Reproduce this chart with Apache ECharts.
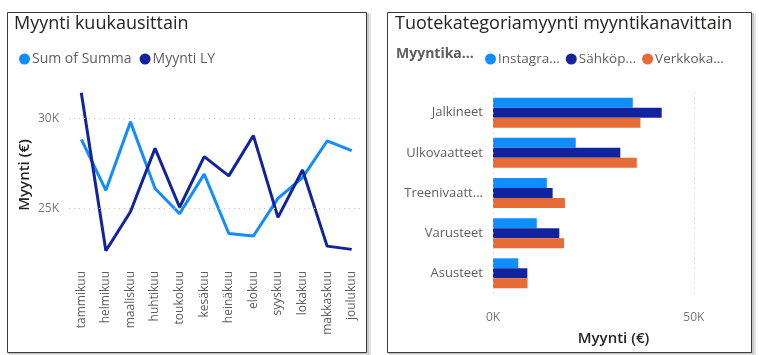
<!DOCTYPE html>
<html><head><meta charset="utf-8">
<script src="https://cdn.jsdelivr.net/npm/echarts@6/dist/echarts.min.js"></script>
<style>html,body{margin:0;padding:0;background:#fff}#c{width:759px;height:355px}</style>
</head><body><div id="c"></div>
<script>
// ---- data ----
const months = ['tammikuu','helmikuu','maaliskuu','huhtikuu','toukokuu','kesäkuu','heinäkuu','elokuu','syyskuu','lokakuu','makkaskuu','joulukuu'];
const sumOfSumma = [28830, 26000, 29800, 26100, 24700, 26900, 23600, 23460, 25550, 26700, 28740, 28200];
const myyntiLY = [31420, 22640, 24810, 28330, 25060, 27870, 26800, 29040, 24500, 27130, 22900, 22720];
const leftTicks = [25000, 30000];

const categories = ['Jalkineet','Ulkovaatteet','Treenivaatteet','Varusteet','Asusteet'];
const channels = ['Instagram','Sähköposti','Verkkokauppa'];
const channelLegend = ['Instagra...','Sähköp...','Verkkoka...'];
const instagram = [34800, 20600, 13400, 10900, 6300];
const sahkoposti = [42000, 31700, 14850, 16500, 8550];
const verkkokauppa = [36700, 35800, 17900, 17700, 8600];
const rightTicks = [0, 50000];

const FONT = '"Segoe UI", "Open Sans", "Noto Sans", sans-serif';
const C1 = '#118DFF', C2 = '#12239E', C3 = '#E66C37';
const fmtK = v => Math.round(v/1000) + 'K';
const gridLine = {type: [1, 4], color: '#C8C6C4', width: 1};

const chart = echarts.init(document.getElementById('c'), null, {renderer: 'canvas'});
chart.setOption({
  animation: false,
  textStyle: {fontFamily: FONT},
  graphic: [
    // panel shadows
    {type: 'rect', shape: {x: 9, y: 14, width: 362, height: 342}, style: {fill: '#e2e2e2'}, z: -11},
    {type: 'rect', shape: {x: 8, y: 13, width: 361, height: 341}, style: {fill: '#c8c8c8'}, z: -10},
    {type: 'rect', shape: {x: 389, y: 14, width: 367, height: 342}, style: {fill: '#e2e2e2'}, z: -11},
    {type: 'rect', shape: {x: 388, y: 13, width: 366, height: 341}, style: {fill: '#c8c8c8'}, z: -10},
    // panels
    {type: 'rect', shape: {x: 7.5, y: 12.5, width: 359, height: 340}, style: {fill: '#fff', stroke: '#3a3a3a', lineWidth: 1}, z: -9},
    {type: 'rect', shape: {x: 387.5, y: 12.5, width: 364, height: 340}, style: {fill: '#fff', stroke: '#3a3a3a', lineWidth: 1}, z: -9},
    // titles
    {type: 'text', left: 14, top: 15, style: {text: 'Myynti kuukausittain', fill: '#252423', font: '18px ' + FONT}},
    {type: 'text', left: 395, top: 15, style: {text: 'Tuotekategoriamyynti myyntikanavittain', fill: '#252423', font: '18px ' + FONT}},
    {type: 'text', left: 396, top: 47, style: {text: 'Myyntika...', fill: '#605E5C', font: 'bold 14px ' + FONT}}
  ],
  legend: [
    {left: 14, top: 47, itemWidth: 11, itemHeight: 11, itemGap: 8, icon: 'circle',
     textStyle: {color: '#605E5C', fontSize: 14, fontFamily: FONT, padding: [0,0,0,-3]},
     data: ['Sum of Summa', 'Myynti LY']},
    {left: 480, top: 47, itemWidth: 11, itemHeight: 11, itemGap: 6, icon: 'circle',
     textStyle: {color: '#605E5C', fontSize: 13.5, fontFamily: FONT, padding: [0,0,0,-3]},
     formatter: n => channelLegend[channels.indexOf(n)],
     data: channels}
  ],
  grid: [
    {left: 69, width: 295, top: 90, height: 170},
    {left: 493, width: 241, top: 92.6, height: 200.8}
  ],
  xAxis: [
    {type: 'category', gridIndex: 0, data: months, boundaryGap: true,
     axisLine: {show: false}, axisTick: {show: false},
     axisLabel: {rotate: 90, color: '#605E5C', fontSize: 12, margin: 11, interval: 0}},
    {type: 'value', gridIndex: 1, min: 0, max: 60000,
     axisLine: {show: false}, axisTick: {show: false}, splitLine: {show: false},
     axisLabel: {customValues: rightTicks, formatter: fmtK, color: '#777', fontSize: 12, margin: 18},
     name: 'Myynti (€)', nameLocation: 'middle', nameGap: 38,
     nameTextStyle: {color: '#252423', fontSize: 15, fontWeight: 600}}
  ],
  yAxis: [
    {type: 'value', gridIndex: 0, min: 22130, max: 31570,
     axisLine: {show: false}, axisTick: {show: false}, splitLine: {show: false},
     axisLabel: {customValues: leftTicks, formatter: fmtK, color: '#777', fontSize: 12, margin: 10},
     name: 'Myynti (€)', nameLocation: 'middle', nameGap: 37,
     nameTextStyle: {color: '#252423', fontSize: 15, fontWeight: 600}},
    {type: 'category', gridIndex: 1, data: categories, inverse: true,
     axisLine: {show: false}, axisTick: {show: false},
     axisLabel: {color: '#605E5C', fontSize: 13, margin: 10,
       formatter: v => v.length > 12 ? v.slice(0, 11) + '...' : v}}
  ],
  series: [
    {name: 'Sum of Summa', type: 'line', xAxisIndex: 0, yAxisIndex: 0, data: sumOfSumma,
     symbol: 'none', lineStyle: {width: 3, color: C1}, itemStyle: {color: C1}, z: 3,
     markLine: {silent: true, symbol: 'none', label: {show: false}, lineStyle: gridLine,
       data: leftTicks.map(v => ({yAxis: v}))}},
    {name: 'Myynti LY', type: 'line', xAxisIndex: 0, yAxisIndex: 0, data: myyntiLY,
     symbol: 'none', lineStyle: {width: 3, color: C2}, itemStyle: {color: C2}, z: 4},
    {name: channels[0], type: 'bar', xAxisIndex: 1, yAxisIndex: 1, data: instagram,
     barWidth: 10, barGap: '0%', itemStyle: {color: C1},
     markLine: {silent: true, symbol: 'none', label: {show: false}, lineStyle: gridLine,
       data: rightTicks.map(v => ({xAxis: v}))}},
    {name: channels[1], type: 'bar', xAxisIndex: 1, yAxisIndex: 1, data: sahkoposti,
     barWidth: 10, barGap: '0%', itemStyle: {color: C2}},
    {name: channels[2], type: 'bar', xAxisIndex: 1, yAxisIndex: 1, data: verkkokauppa,
     barWidth: 10, barGap: '0%', itemStyle: {color: C3}}
  ]
});
</script></body></html>
